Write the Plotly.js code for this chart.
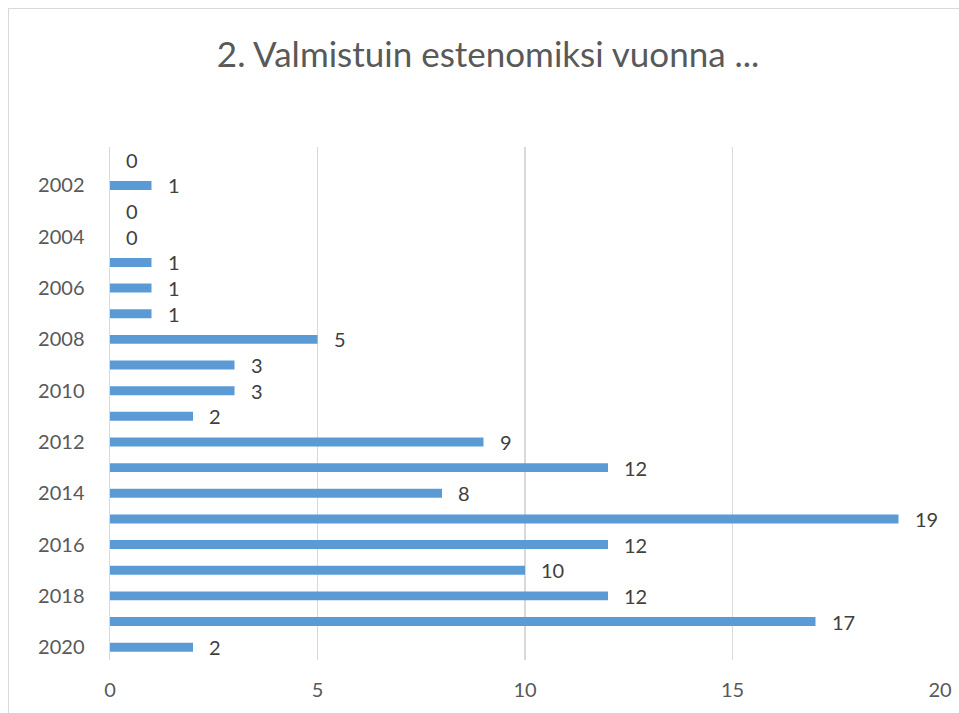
<!DOCTYPE html>
<html>
<head>
<meta charset="utf-8">
<script src="https://cdn.plot.ly/plotly-3.0.1.min.js"></script>
<style>
  html, body { margin: 0; padding: 0; background: #ffffff; overflow: hidden; }
  #frame { position: absolute; left: 8px; top: 8px; width: 1000px; height: 800px; border: 1px solid #d9d9d9; box-sizing: border-box; }
  #chart { position: absolute; left: 0; top: 0; width: 959px; height: 713px; }
</style>
</head>
<body>
<div id="frame"></div>
<div id="chart"></div>
<script>
const years = [2001, 2002, 2003, 2004, 2005, 2006, 2007, 2008, 2009, 2010,
               2011, 2012, 2013, 2014, 2015, 2016, 2017, 2018, 2019, 2020];
const counts = [0, 1, 0, 0, 1, 1, 1, 5, 3, 3, 2, 9, 12, 8, 19, 12, 10, 12, 17, 2];
const yTickValues = [2002, 2004, 2006, 2008, 2010, 2012, 2014, 2016, 2018, 2020];
const yTickLabels = ['2002','2004','2006','2008','2010','2012','2014','2016','2018','2020'];
const xTickValues = [0, 5, 10, 15, 20];
const chartTitle = '2. Valmistuin estenomiksi vuonna ...';

const fontFam = 'Lato, "Open Sans", sans-serif';

const trace = {
  type: 'bar',
  orientation: 'h',
  x: counts,
  y: years,
  width: 0.35,
  marker: { color: '#5b9bd5', line: { width: 0 } },
  hoverinfo: 'x+y'
};

const annotations = counts.map((v, i) => ({
  x: v, y: years[i], xref: 'x', yref: 'y',
  text: String(v), showarrow: false,
  xanchor: 'left', yanchor: 'middle',
  xshift: 14, yshift: 0,
  font: { family: fontFam, size: 20, color: '#404040' }
}));

const layout = {
  width: 959, height: 713,
  paper_bgcolor: 'rgba(0,0,0,0)',
  plot_bgcolor: 'rgba(0,0,0,0)',
  margin: { l: 110, r: 19, t: 147, b: 53 },
  showlegend: false,
  title: {
    text: chartTitle,
    x: 0.509, xanchor: 'center',
    y: 0.923, yanchor: 'middle',
    font: { family: fontFam, size: 35, color: '#595959' }
  },
  xaxis: {
    range: [0, 20],
    tickvals: xTickValues,
    showgrid: true, gridcolor: '#d9d9d9', gridwidth: 1.5,
    zeroline: false, showline: false,
    ticks: '', ticklabelstandoff: 16,
    tickfont: { family: fontFam, size: 20, color: '#595959' },
    fixedrange: true
  },
  yaxis: {
    range: [2020.5, 2000.5],
    tickvals: yTickValues, ticktext: yTickLabels,
    showgrid: false, zeroline: false,
    showline: true, linecolor: '#d9d9d9', linewidth: 1.5,
    ticks: '', ticklabelstandoff: 20,
    tickfont: { family: fontFam, size: 20, color: '#595959' },
    fixedrange: true
  },
  annotations: annotations
};

Plotly.newPlot('chart', [trace], layout, { displayModeBar: false, staticPlot: true });
</script>
</body>
</html>
